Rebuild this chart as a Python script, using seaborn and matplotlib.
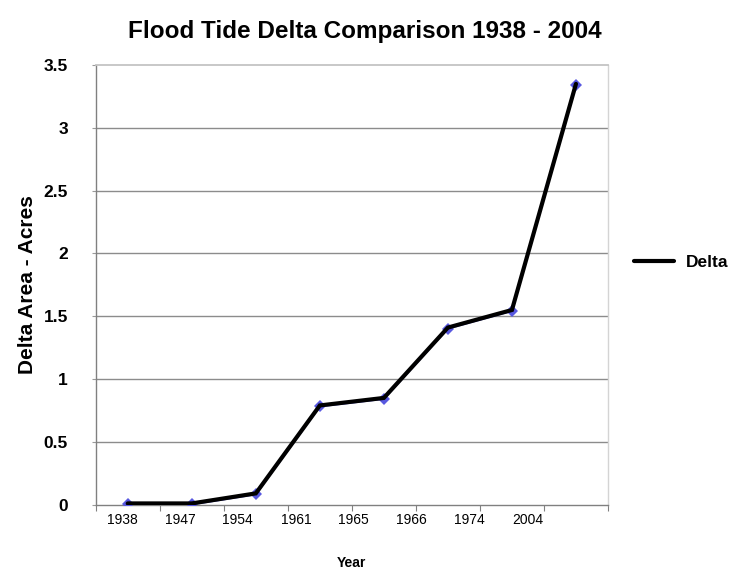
import numpy as np
import pandas as pd
import matplotlib
matplotlib.use("Agg")
import matplotlib.pyplot as plt
import matplotlib.transforms as mtransforms
from matplotlib.lines import Line2D
import seaborn as sns

# Survey years and measured flood tide delta area (acres)
years = ["1938", "1947", "1954", "1961", "1965", "1966", "1974", "2004"]
delta_acres = [0.01, 0.01, 0.09, 0.79, 0.85, 1.41, 1.55, 3.35]
y_ticks = [0, 0.5, 1, 1.5, 2, 2.5, 3, 3.5]
y_tick_labels = ["0", "0.5", "1", "1.5", "2", "2.5", "3", "3.5"]

df = pd.DataFrame({"pos": np.arange(len(years)), "Delta": delta_acres})

sns.set_theme(style="white")
plt.rcParams["font.family"] = ["Liberation Sans", "DejaVu Sans"]
for key in ["text.color", "axes.labelcolor", "xtick.labelcolor", "ytick.labelcolor"]:
    plt.rcParams[key] = "black"

fig = plt.figure(figsize=(7.29, 5.76), dpi=100)
ax = fig.add_axes([0.1313, 0.1238, 0.7027, 0.7633])

# Thin blue series line with diamond markers, sitting just under the heavy black line
blue_shift = mtransforms.offset_copy(ax.transData, fig=fig, x=0, y=-1.0, units="dots")
sns.lineplot(data=df, x="pos", y="Delta", ax=ax, color="#5858e0", linewidth=1.4,
             marker="D", markersize=6, markeredgewidth=0, transform=blue_shift,
             legend=False, zorder=3)
sns.lineplot(data=df, x="pos", y="Delta", ax=ax, color="black", linewidth=3.0,
             legend=False, zorder=4, solid_joinstyle="miter")

ax.set_xlim(-0.5, len(years) - 0.5)
ax.set_ylim(0, 3.5)

# Horizontal gridlines
for v in y_ticks[1:-1]:
    ax.axhline(v, color="#8c8c8c", linewidth=1.0, zorder=1)

# Spines
for side in ["left", "bottom"]:
    ax.spines[side].set_color("#808080")
    ax.spines[side].set_linewidth(1.0)
ax.spines["top"].set_color("#c4c4c4")
ax.spines["top"].set_linewidth(1.3)
ax.spines["right"].set_color("#d4d4d4")
ax.spines["right"].set_linewidth(1.0)

# Y axis ticks
ax.set_yticks(y_ticks)
ax.set_yticklabels(y_tick_labels, fontsize=12.5, fontweight="bold")
ax.tick_params(axis="y", which="major", length=3, width=0.8, color="#9a9a9a",
               direction="out", pad=17, left=True)

# X axis: tick marks on category boundaries, year labels underneath
ax.set_xticks(np.arange(len(years) + 1) - 0.5, minor=True)
label_pos = -0.09 + 0.905 * np.arange(len(years))
ax.set_xticks(label_pos)
ax.set_xticklabels(years, fontsize=10)
ax.tick_params(axis="x", which="major", length=0, pad=6)
ax.tick_params(axis="x", which="minor", length=4, width=0.8, color="#808080",
               direction="out", bottom=True)

ax.set_xlabel("Year", fontsize=10, fontweight="bold", labelpad=21)
ax.set_ylabel("Delta Area - Acres", fontsize=15, fontweight="bold", labelpad=5)

fig.suptitle("Flood Tide Delta Comparison 1938 - 2004", fontsize=17.5,
             fontweight="bold", x=0.5, y=0.966)

handle = Line2D([0], [0], color="black", linewidth=3.0)
leg = fig.legend([handle], ["Delta"], loc="center left",
                 bbox_to_anchor=(0.848, 0.545), frameon=False,
                 handlelength=2.3, handletextpad=0.7,
                 prop={"size": 12.5, "weight": "bold"})

fig.savefig("out.png", dpi=100, facecolor="white")
